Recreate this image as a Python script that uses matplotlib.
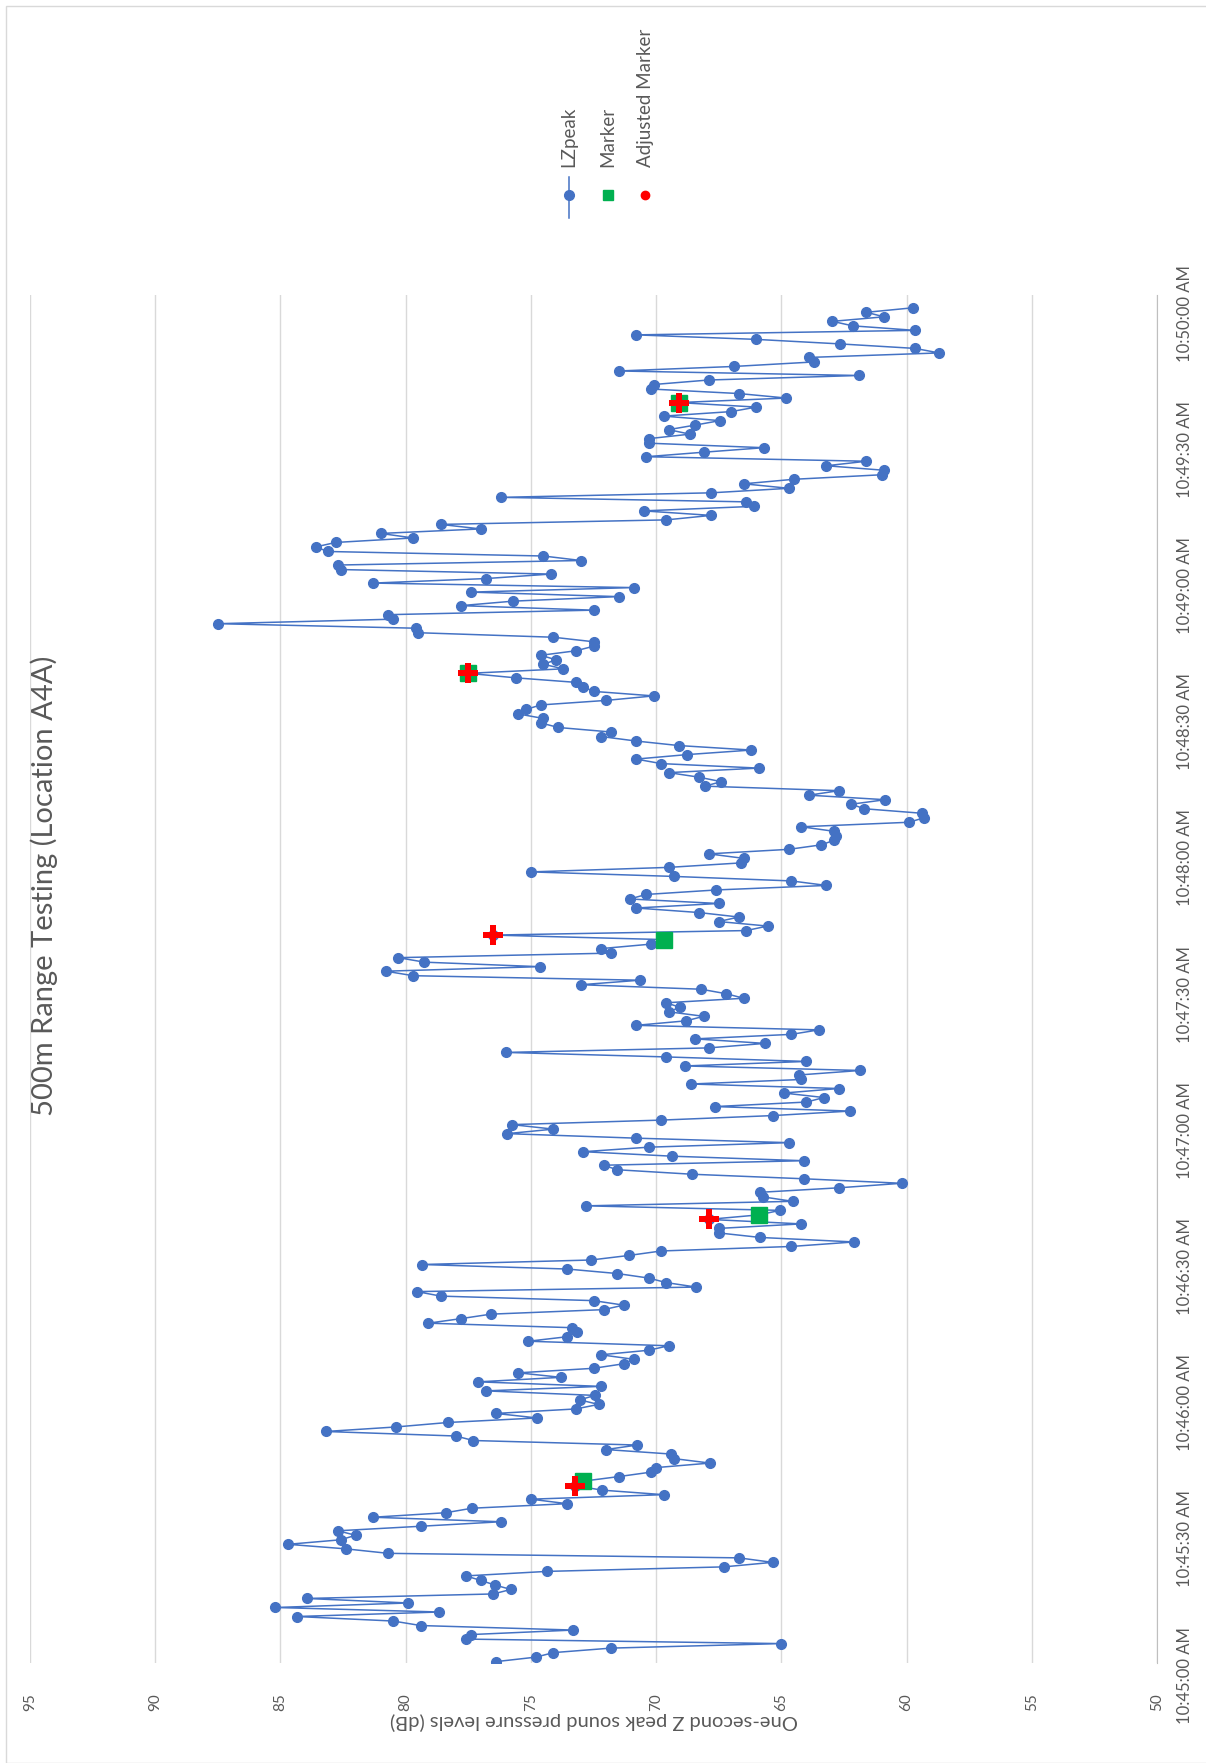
import matplotlib
matplotlib.use("Agg")
import matplotlib.pyplot as plt
import matplotlib.transforms as mtransforms
from matplotlib.lines import Line2D
from matplotlib.patches import Rectangle
import numpy as np

# one-second LZpeak readings (dB), first sample at 10:45:03
lzpeak = [
    76.4, 74.8, 74.1, 71.8, 65.0, 77.6, 77.4, 73.3, 79.4, 80.5,
    84.35, 78.65, 85.2, 79.9, 83.95, 76.5, 75.8, 76.45, 77.0, 77.6,
    74.35, 67.3, 65.35, 66.7, 80.7, 82.4, 84.7, 82.6, 82.0, 82.7,
    79.4, 76.2, 81.3, 78.4, 77.35, 73.55, 75.0, 69.7, 72.15, 73.25,
    72.9, 71.5, 70.2, 70.0, 67.85, 69.3, 69.4, 72.0, 70.75, 77.3,
    78.0,
    83.2, 80.4, 78.3, 74.75, 76.4, 73.2, 72.3, 73.05, 72.45, 76.8,
    72.2, 77.1, 73.8, 75.5, 72.5, 71.3, 70.9, 72.2, 70.3, 69.5,
    75.1, 73.55, 73.15, 73.35, 79.1, 77.8, 76.6, 72.1, 71.3, 72.5,
    78.6, 79.55, 68.4, 69.6, 70.3, 71.55, 73.55, 79.35, 72.6, 71.1,
    69.8, 64.6, 62.1, 65.85, 67.5, 67.5, 64.2, 67.9, 65.9, 65.05,
    72.8, 64.55, 65.75, 65.85, 62.7, 60.2, 64.1, 68.55, 71.55, 72.1,
    64.1, 69.35, 72.9, 70.3, 64.7, 70.8, 75.95, 74.1, 75.75, 69.8,
    65.35, 62.25, 67.65, 64.0, 63.3, 64.9, 62.7, 68.6, 64.2, 64.3,
    61.85, 68.85, 64.0, 69.6, 76.0, 67.9, 65.65, 68.45, 64.6, 63.5,
    70.8, 68.8, 68.1, 69.5, 69.05, 69.6, 66.5, 67.2, 68.2, 73.0,
    70.65,
    79.7, 80.8, 74.65, 79.25, 80.3, 71.8, 72.2, 70.2, 69.7, 76.5,
    66.4, 65.55, 67.5, 66.7, 68.3, 70.8, 67.5, 71.05, 70.4, 67.6,
    63.2, 64.6, 69.3, 75.0, 69.5, 66.6, 66.5, 67.9, 64.7, 63.4,
    62.9, 62.8, 62.9, 64.2, 59.9, 59.3, 59.4, 61.7, 62.2, 60.85,
    63.9, 62.7, 68.05, 67.4, 68.3, 69.5, 65.9, 69.8, 70.8, 68.75,
    66.2, 69.1, 70.8, 72.2, 71.8, 73.9, 74.6, 74.5, 75.5, 75.2,
    74.6, 72.0, 70.1, 72.5, 72.9, 73.2, 75.6, 77.5, 73.7, 74.5,
    74.0, 74.6, 73.2, 72.5, 72.5, 74.1, 79.5, 79.6, 87.5, 80.5,
    80.7, 72.5, 77.8, 75.7, 71.5, 77.4, 70.9, 81.3, 76.8, 74.2,
    82.6, 82.7, 73.0, 74.5, 83.1, 83.6, 82.8, 79.7, 81.0, 77.0,
    78.6, 69.6,
    67.8, 70.5, 66.1, 66.4, 76.2, 67.8, 64.7, 66.5, 64.5, 61.0,
    60.9, 63.2, 61.6, 70.4, 68.1, 65.7, 70.3, 70.3, 68.65, 69.5,
    68.45, 67.45, 69.7, 67.0, 66.0, 69.1, 64.8, 66.7, 70.2, 70.1,
    67.9, 61.9, 71.5, 66.9, 63.7, 63.9, 58.7, 59.66, 62.66, 66.0,
    70.8, 59.66, 62.15, 62.96, 60.9, 61.6, 59.75,
]
start_sec = 3  # seconds after 10:45:00
seconds = np.arange(start_sec, start_sec + len(lzpeak))

marker_sec = [43, 102, 163, 222, 282]
marker_db = [72.9, 65.9, 69.7, 77.5, 69.1]
adj_sec = [42, 101, 164, 222, 282]
adj_db = [73.25, 67.9, 76.5, 77.5, 69.1]

tick_sec = [0, 30, 60, 90, 120, 150, 180, 210, 240, 270, 300]
tick_labels = ['10:45:00 AM', '10:45:30 AM', '10:46:00 AM', '10:46:30 AM',
               '10:47:00 AM', '10:47:30 AM', '10:48:00 AM', '10:48:30 AM',
               '10:49:00 AM', '10:49:30 AM', '10:50:00 AM']
db_ticks = [50, 55, 60, 65, 70, 75, 80, 85, 90, 95]

W, H = 1206, 1763
plt.rcParams['font.family'] = ['Lato', 'DejaVu Sans']
grey = '#595959'

fig = plt.figure(figsize=(W / 100, H / 100), dpi=100)

# chart frame
fig.patches.append(Rectangle((6 / W, 0), 1.5, 1 - 6 / H, transform=fig.transFigure,
                             fill=False, ec='#d9d9d9', lw=1))

# plot area (chart is drawn turned a quarter turn)
left, right, top, bottom = 30, 1157, 295, 1663
ax = fig.add_axes([left / W, 1 - bottom / H, (right - left) / W, (bottom - top) / H])
ax.set_xlim(95, 50)
ax.set_ylim(start_sec - 0.3, start_sec + (1661.7 - top) / 4.513)

ax.plot(lzpeak, seconds, color='#4472C4', lw=1.1, marker='o', ms=7,
        mec='#4472C4', mfc='#4472C4', zorder=3)
ax.plot(marker_db, marker_sec, ls='none', marker='s', ms=11, color='#00B050', zorder=4)
ax.plot(adj_db, adj_sec, ls='none', marker='P', ms=14, color='#FF0000', mew=0, zorder=5)

ax.set_xticks(db_ticks)
ax.set_xticklabels([str(v) for v in db_ticks], rotation=90, color=grey, fontsize=11)
ax.tick_params(axis='x', length=0, pad=22)
ax.set_yticks([])
ax.grid(axis='x', color='#d9d9d9', lw=1)
for s in ['left', 'top', 'bottom']:
    ax.spines[s].set_visible(False)
ax.spines['right'].set_color('#bfbfbf')

trans = mtransforms.blended_transform_factory(ax.transAxes, ax.transData)
for s, lab in zip(tick_sec, tick_labels):
    ax.text((1185 - left) / (right - left), s * 1.006, lab, transform=trans, rotation=90,
            ha='center', va='center', color=grey, fontsize=12, clip_on=False)

fig.text(593.5 / W, 1 - 1721 / H, 'One-second Z peak sound pressure levels (dB)',
         rotation=180, ha='center', va='center', color=grey, fontsize=14.5)
fig.text(44 / W, 1 - 886 / H, '500m Range Testing (Location A4A)', rotation=90,
         ha='center', va='center', color=grey, fontsize=21)

# legend, stacked along the top
lg = fig.add_axes([0, 0, 1, 1])
lg.set_xlim(0, W)
lg.set_ylim(H, 0)
lg.axis('off')
lg.add_line(Line2D([569, 569], [177, 218], color='#4472C4', lw=1.1))
lg.plot([569], [195], marker='o', ms=7, color='#4472C4')
lg.plot([608], [195], marker='s', ms=7, color='#00B050')
lg.plot([645], [195], marker='o', ms=6, color='#FF0000')
for x, lab in [(569, 'LZpeak'), (608, 'Marker'), (645, 'Adjusted Marker')]:
    lg.text(x, 167, lab, rotation=90, ha='center', va='bottom', color=grey, fontsize=13.5)

fig.savefig('out.png', dpi=100)
